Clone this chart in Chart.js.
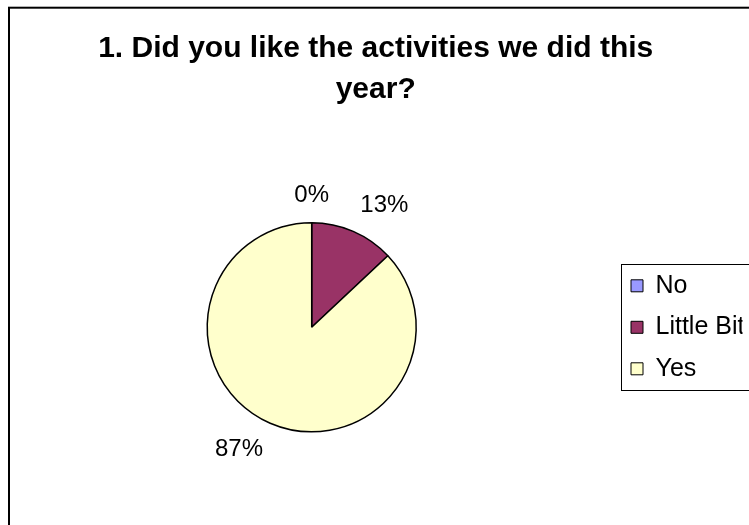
<!DOCTYPE html>
<html>
<head>
<meta charset="utf-8">
<title>1. Did you like the activities we did this year?</title>
<script src="https://cdn.jsdelivr.net/npm/chart.js@4/dist/chart.umd.min.js"></script>
<style>
    html, body { margin: 0; padding: 0; background: #fff; }
    #pie-wrap { width: 749px; height: 525px; }
</style>
</head>
<body>
<div id="pie-wrap"><canvas id="activitiesPie" width="749" height="525"></canvas></div>
<script>
var answers = ["No", "Little Bit", "Yes"];
var percents = [0, 13, 87];
var sliceColors = ["#9999FF", "#993366", "#FFFFCC"];
var titleLines = ["1. Did you like the activities we did this", "year?"];

(function (global) {
    "use strict";

    var FONT = '"Liberation Sans", Arial, sans-serif';

    // white page plus the outer chart border (runs off the right/bottom edge)
    var chartFrame = {
        id: "chartFrame",
        beforeDraw: function (chart) {
            var ctx = chart.ctx;
            ctx.save();
            ctx.fillStyle = "#fff";
            ctx.fillRect(0, 0, chart.width, chart.height);
            ctx.strokeStyle = "#000";
            ctx.lineWidth = 2;
            ctx.strokeRect(9, 7.7, chart.width + 20, chart.height + 20);
            ctx.restore();
        }
    };

    // thin box around the legend, Excel style
    var legendFrame = {
        id: "legendFrame",
        afterDraw: function (chart) {
            var lg = chart.legend;
            if (!lg || !lg.legendHitBoxes || !lg.legendHitBoxes.length) return;
            var boxes = lg.legendHitBoxes;
            var last = boxes[boxes.length - 1];
            var top = Math.round(boxes[0].top - 9) + 0.5;
            var bottom = Math.round(last.top + last.height + 9) + 0.5;
            var left = Math.round(lg.left + 6.5) + 0.5;
            var ctx = chart.ctx;
            ctx.save();
            ctx.strokeStyle = "#000";
            ctx.lineWidth = 1;
            ctx.strokeRect(left, top, chart.width - left + 20, bottom - top);
            ctx.restore();
        }
    };

    // percentage labels outside the pie
    var pctLabels = {
        id: "pctLabels",
        afterDatasetsDraw: function (chart) {
            var meta = chart.getDatasetMeta(0);
            var data = chart.data.datasets[0].data;
            var total = data.reduce(function (a, b) { return a + b; }, 0);
            var ctx = chart.ctx;
            ctx.save();
            ctx.font = "24px " + FONT;
            ctx.fillStyle = "#000";
            ctx.textAlign = "center";
            ctx.textBaseline = "middle";
            meta.data.forEach(function (arc, i) {
                var p = arc.getProps(["x", "y", "startAngle", "endAngle", "outerRadius"], true);
                var mid = (p.startAngle + p.endAngle) / 2;
                var r = p.outerRadius + 18;
                var cx = Math.cos(mid), cy = Math.sin(mid);
                var text = Math.round(data[i] / total * 100) + "%";
                var w = ctx.measureText(text).width;
                var sx = Math.abs(cx) < 0.02 ? 0 : (cx > 0 ? 1 : -1);
                var sy = Math.abs(cy) < 0.02 ? 0 : (cy > 0 ? 1 : -1);
                var x = p.x + cx * r + sx * w / 2;
                var y = p.y + cy * r + sy * 9.5;
                ctx.fillText(text, x, y);
            });
            ctx.restore();
        }
    };

    function legendLabels(chart) {
        var items = Chart.overrides.pie.plugins.legend.labels.generateLabels(chart);
        items.forEach(function (it) { it.lineWidth = 1; });
        return items;
    }

    function init() {
        var ctx = document.getElementById("activitiesPie").getContext("2d");
        new Chart(ctx, {
            type: "pie",
            data: {
                labels: answers,
                datasets: [{
                    data: percents,
                    backgroundColor: sliceColors,
                    borderColor: "#000",
                    borderWidth: 1.5,
                    radius: 104.5
                }]
            },
            options: {
                responsive: false,
                devicePixelRatio: 1,
                animation: false,
                events: [],
                layout: { padding: { top: 8, left: 8.9, right: 6.5, bottom: 0 } },
                plugins: {
                    title: {
                        display: true,
                        text: titleLines,
                        color: "#000",
                        font: { family: FONT, size: 30, weight: "bold", lineHeight: 41 / 30 },
                        padding: { top: 20.6, bottom: 19 }
                    },
                    legend: {
                        position: "right",
                        align: "center",
                        fullSize: false,
                        maxWidth: 128,
                        labels: {
                            boxWidth: 12,
                            boxHeight: 12,
                            padding: 16.5,
                            color: "#000",
                            font: { family: FONT, size: 25 },
                            generateLabels: legendLabels
                        }
                    },
                    tooltip: { enabled: false }
                }
            },
            plugins: [chartFrame, legendFrame, pctLabels]
        });
    }

    document.addEventListener("DOMContentLoaded", init);
})(window);
</script>
</body>
</html>
